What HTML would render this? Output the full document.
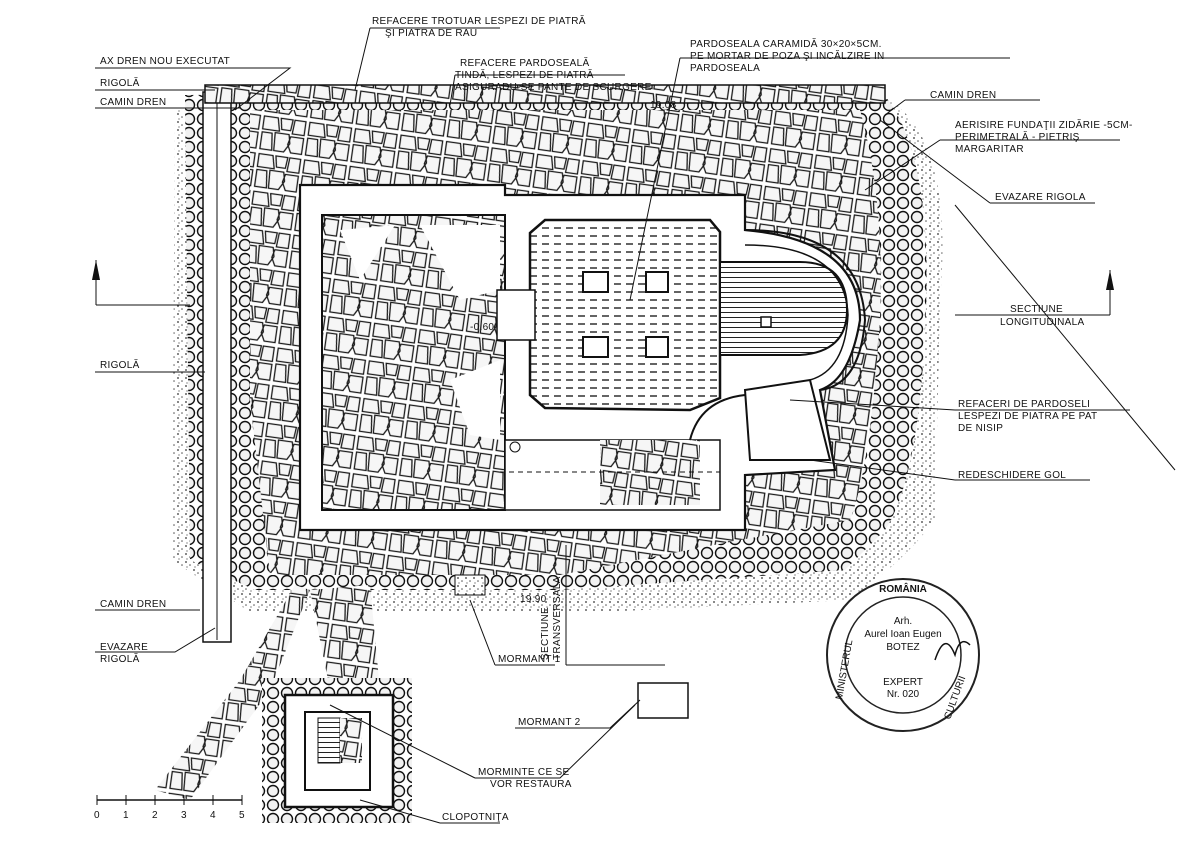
<!DOCTYPE html>
<html><head><meta charset="utf-8"><style>
html,body{margin:0;padding:0;background:#fff}
svg{display:block}
text{font-family:"Liberation Sans",sans-serif;font-size:10px;fill:#111}
</style></head><body>
<svg width="1200" height="848" viewBox="0 0 1200 848" xmlns="http://www.w3.org/2000/svg">
<defs>
<pattern id="st" width="46" height="38" patternUnits="userSpaceOnUse" patternTransform="rotate(8)">
<rect width="46" height="38" fill="#fff"/>
<path d="M2 2h14l3 13h-17zM19 2h12l-1 11h-9zM33 2h11v14h-12zM2 18h10l2 17h-12zM15 17h14l2 9-5 9h-10zM31 19h13v16h-11l-4-8z" fill="#f6f6f6" stroke="#1a1a1a" stroke-width="1.3"/>
</pattern>
<pattern id="cb" width="14" height="14" patternUnits="userSpaceOnUse">
<rect width="14" height="14" fill="#fff"/>
<circle cx="7" cy="7" r="5.5" fill="#f2f2f2" stroke="#111" stroke-width="1.4"/>
</pattern>
<pattern id="dt" width="8" height="8" patternUnits="userSpaceOnUse">
<rect width="8" height="8" fill="#fff"/><circle cx="2" cy="2" r="0.9" fill="#333"/><circle cx="6" cy="5" r="0.8" fill="#555"/><circle cx="3" cy="7" r="0.6" fill="#444"/>
</pattern>
<pattern id="br" width="12" height="8" patternUnits="userSpaceOnUse">
<rect width="12" height="8" fill="#fff"/><line x1="2" y1="4" x2="9" y2="4" stroke="#222" stroke-width="1.4"/>
</pattern>
<pattern id="hl" width="8" height="5" patternUnits="userSpaceOnUse">
<rect width="8" height="5" fill="#fff"/><line x1="0" y1="2.5" x2="8" y2="2.5" stroke="#222" stroke-width="1"/>
</pattern>
</defs>

<path d="M175 110 L880 95 Q955 130 940 300 L935 520 Q905 560 850 600 L600 612 L250 612 L172 560 Z" fill="url(#dt)"/>
<path d="M185 95 L880 90 Q935 150 925 330 Q918 480 885 530 L845 570 L560 590 L255 590 L190 560 Z" fill="url(#cb)"/>
<path d="M250 110 L860 110 Q885 200 880 320 Q870 470 850 520 L740 540 L560 575 L270 575 L250 400 Z" fill="url(#st)"/>
<rect x="203" y="92" width="28" height="550" fill="#fff" stroke="#111" stroke-width="1.5"/>
<line x1="217" y1="92" x2="217" y2="640" stroke="#111"/>
<rect x="205" y="85" width="680" height="18" fill="url(#st)" stroke="#111" stroke-width="1.5"/>

<path d="M300 185 L505 185 L505 195 L745 195 L745 230 Q860 240 860 320 Q850 380 820 390 L835 470 L745 475 L745 530 L300 530 Z" fill="#fff" stroke="#111" stroke-width="2.2"/>
<rect x="322" y="215" width="183" height="295" fill="url(#st)" stroke="#111" stroke-width="2"/>
<path d="M340 230 L395 225 L360 280 Z M450 380 L500 360 L500 440 L470 435 Z M420 225 L500 225 L500 290 L460 300 Z" fill="#fff"/>
<rect x="505" y="440" width="215" height="70" fill="#fff" stroke="#111" stroke-width="1.5"/>
<rect x="600" y="440" width="100" height="65" fill="url(#st)"/>
<path d="M545 220 L710 220 L720 232 L720 398 L690 410 L545 408 L530 395 L530 233 Z" fill="url(#br)" stroke="#111" stroke-width="2.5"/>
<path d="M720 262 L800 262 Q847 262 847 310 Q847 352 800 355 L720 355 Z" fill="url(#hl)" stroke="#111" stroke-width="2"/>
<path d="M745 230 Q860 230 865 320 Q860 385 820 390" fill="none" stroke="#111" stroke-width="2"/>
<path d="M745 245 Q845 245 848 315 Q845 370 810 380" fill="none" stroke="#111" stroke-width="1.5"/>
<rect x="583" y="272" width="25" height="20" fill="#fff" stroke="#111" stroke-width="2"/>
<rect x="646" y="272" width="22" height="20" fill="#fff" stroke="#111" stroke-width="2"/>
<rect x="583" y="337" width="25" height="20" fill="#fff" stroke="#111" stroke-width="2"/>
<rect x="646" y="337" width="22" height="20" fill="#fff" stroke="#111" stroke-width="2"/>
<rect x="761" y="317" width="10" height="10" fill="#fff" stroke="#111" stroke-width="1.5"/>
<rect x="497" y="290" width="38" height="50" fill="#fff" stroke="#111" stroke-width="1.5"/>
<path d="M745 390 L810 380 L830 460 L750 460 Z" fill="#fff" stroke="#111" stroke-width="2"/>
<path d="M690 440 Q700 400 745 395" fill="none" stroke="#111" stroke-width="2"/>
<line x1="500" y1="472" x2="720" y2="472" stroke="#111" stroke-dasharray="5 4"/>
<circle cx="515" cy="447" r="5" fill="#fff" stroke="#111"/>

<path d="M310 590 L270 690 L190 800 L155 790 L240 680 L295 585 Z" fill="url(#st)"/>
<path d="M310 590 L370 585 L380 690 L330 690 Z" fill="url(#st)"/>
<rect x="262" y="678" width="150" height="145" fill="url(#cb)"/>
<rect x="285" y="695" width="108" height="112" fill="#fff" stroke="#111" stroke-width="2.5"/>
<rect x="305" y="712" width="65" height="78" fill="#fff" stroke="#111" stroke-width="2"/>
<rect x="318" y="718" width="22" height="45" fill="url(#hl)" stroke="#111"/>
<rect x="340" y="718" width="22" height="45" fill="url(#st)"/>
<rect x="638" y="683" width="50" height="35" fill="#fff" stroke="#111" stroke-width="1.5"/>
<rect x="455" y="575" width="30" height="20" fill="url(#dt)" stroke="#111"/>

<circle cx="903" cy="655" r="76" fill="#fff" stroke="#222" stroke-width="2"/>
<circle cx="903" cy="655" r="58" fill="#fff" stroke="#222" stroke-width="1.5"/>
<text x="903" y="592" text-anchor="middle" font-size="15" font-weight="bold">ROMÂNIA</text>
<text x="903" y="624" text-anchor="middle" font-size="9">Arh.</text>
<text x="903" y="637" text-anchor="middle" font-size="9">Aurel Ioan Eugen</text>
<text x="903" y="650" text-anchor="middle" font-size="9">BOTEZ</text>
<text x="903" y="685" text-anchor="middle" font-size="9">EXPERT</text>
<text x="903" y="697" text-anchor="middle" font-size="9">Nr. 020</text>
<text x="842" y="700" font-size="11" transform="rotate(-80 842 700)">MINISTERUL</text>
<text x="950" y="720" font-size="11" transform="rotate(-70 950 720)">CULTURII</text>
<path d="M935 660 q10 -30 20 -5 q5 -20 15 -10" fill="none" stroke="#111" stroke-width="1.5"/>

<line x1="96" y1="305" x2="190" y2="305" stroke="#111"/><path d="M96 260 l4 20 h-8z" fill="#111"/><line x1="96" y1="260" x2="96" y2="305" stroke="#111"/>
<line x1="955" y1="315" x2="1110" y2="315" stroke="#111"/><line x1="1110" y1="270" x2="1110" y2="315" stroke="#111"/><path d="M1110 270 l4 20 h-8z" fill="#111"/>
<line x1="566" y1="545" x2="566" y2="665" stroke="#111"/><line x1="566" y1="665" x2="665" y2="665" stroke="#111"/>

<g stroke="#111" fill="none" stroke-width="1">
<path d="M95 68 H290 L235 110"/><path d="M95 90 H215"/><path d="M95 108 H240"/>
<path d="M370 28 H500 M370 28 L355 90"/><path d="M455 75 H625 M455 75 L450 105"/>
<path d="M680 58 H1010 M680 58 L630 300"/>
<path d="M905 100 H1040 M905 100 L885 115"/><path d="M940 140 H1120 M940 140 L865 190"/>
<path d="M990 203 H1095 M990 203 L880 120"/><path d="M955 205 L1175 470"/>
<path d="M955 410 H1130 M955 410 L790 400"/><path d="M955 480 H1090 M955 480 L810 460"/>
<path d="M95 372 H205"/><path d="M95 610 H200"/><path d="M95 652 H175 L215 628"/>
<path d="M495 665 H555 M495 665 L470 600"/><path d="M515 728 H610 L640 700"/>
<path d="M475 778 H560 L635 705"/><path d="M475 778 L330 705"/><path d="M440 823 H500 M440 823 L360 800"/>
</g>
<g font-size="9.5" letter-spacing=".3">
<text x="372" y="24">REFACERE TROTUAR LESPEZI DE PIATRĂ</text>
<text x="385" y="36">ŞI PIATRA DE RAU</text>
<text x="100" y="64">AX DREN NOU EXECUTAT</text>
<text x="100" y="86">RIGOLĂ</text>
<text x="100" y="105">CAMIN DREN</text>
<text x="460" y="66">REFACERE PARDOSEALĂ</text>
<text x="455" y="78">TINDĂ, LESPEZI DE PIATRĂ</text>
<text x="455" y="90">ASIGURADU-SE PANTE DE SCURGERE</text>
<text x="690" y="47">PARDOSEALA CARAMIDĂ 30×20×5CM.</text>
<text x="690" y="59">PE MORTAR DE POZA ŞI INCĂLZIRE IN</text>
<text x="690" y="71">PARDOSEALA</text>
<text x="930" y="98">CAMIN DREN</text>
<text x="955" y="128">AERISIRE FUNDAŢII ZIDĂRIE -5CM-</text>
<text x="955" y="140">PERIMETRALĂ - PIETRIŞ</text>
<text x="955" y="152">MARGARITAR</text>
<text x="995" y="200">EVAZARE RIGOLA</text>
<text x="1010" y="312">SECTIUNE</text>
<text x="1000" y="325">LONGITUDINALA</text>
<text x="958" y="407">REFACERI DE PARDOSELI</text>
<text x="958" y="419">LESPEZI DE PIATRA PE PAT</text>
<text x="958" y="431">DE NISIP</text>
<text x="958" y="478">REDESCHIDERE GOL</text>
<text x="100" y="368">RIGOLĂ</text>
<text x="100" y="607">CAMIN DREN</text>
<text x="100" y="650">EVAZARE</text>
<text x="100" y="662">RIGOLĂ</text>
<text x="498" y="662">MORMANT 1</text>
<text x="518" y="725">MORMANT 2</text>
<text x="478" y="775">MORMINTE CE SE</text>
<text x="490" y="787">VOR RESTAURA</text>
<text x="442" y="820">CLOPOTNIŢA</text>
<text x="470" y="330">-0.60</text>
<text x="650" y="108">19.08</text>
<text x="520" y="602">19.90</text>
<text x="548" y="660" transform="rotate(-90 548 660)">SECTIUNE</text>
<text x="560" y="660" transform="rotate(-90 560 660)">TRANSVERSALA</text>
</g>
<line x1="97" y1="800" x2="242" y2="800" stroke="#111" stroke-width="1.5"/>
<g stroke="#111"><line x1="97" y1="795" x2="97" y2="805"/><line x1="126" y1="795" x2="126" y2="805"/><line x1="155" y1="795" x2="155" y2="805"/><line x1="184" y1="795" x2="184" y2="805"/><line x1="213" y1="795" x2="213" y2="805"/><line x1="242" y1="795" x2="242" y2="805"/></g>
<g font-size="10"><text x="94" y="818">0</text><text x="123" y="818">1</text><text x="152" y="818">2</text><text x="181" y="818">3</text><text x="210" y="818">4</text><text x="239" y="818">5</text></g>
</svg>
</body></html>
